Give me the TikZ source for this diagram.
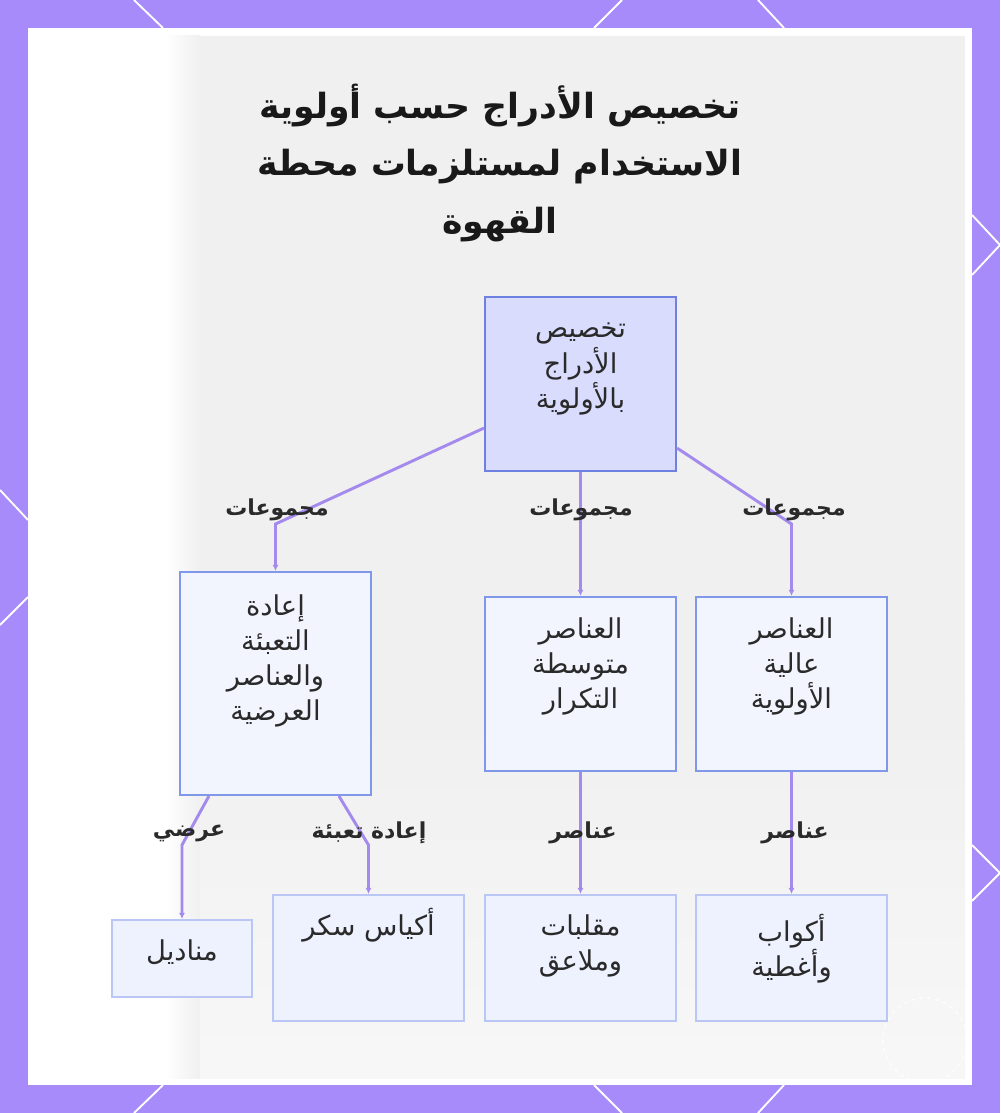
\documentclass[tikz,border=0pt]{standalone}
\usepackage{fontspec}
\newfontfamily\arabicfont[Script=Arabic]{DejaVu Sans}
\TeXXeTstate=1
\usetikzlibrary{arrows.meta,calc}
\definecolor{framecol}{HTML}{A78BFA}
\definecolor{edgecol}{HTML}{A58AEE}
\definecolor{rootfill}{HTML}{D9DCFC}
\definecolor{rootdraw}{HTML}{6E80E0}
\definecolor{midfill}{HTML}{F3F5FE}
\definecolor{middraw}{HTML}{7F98EA}
\definecolor{leaffill}{HTML}{EEF1FE}
\definecolor{leafdraw}{HTML}{BAC6F4}
\definecolor{txtcol}{HTML}{2A2A2A}
\newcommand\AR[1]{\beginR #1\endR}
\begin{document}
\begin{tikzpicture}[x=0.75pt,y=-0.75pt,
  boxbase/.style={rectangle, inner sep=0pt, line width=1.6pt},
  rootbox/.style={boxbase, fill=rootfill, draw=rootdraw, minimum width=191*0.75pt, minimum height=174*0.75pt},
  midbox/.style={boxbase, fill=midfill, draw=middraw},
  leafbox/.style={boxbase, fill=leaffill, draw=leafdraw},
  boxtxt/.style={anchor=north, align=center, text=txtcol, font=\arabicfont\fontsize{20.5}{26.3}\selectfont, inner sep=0pt},
  lbl/.style={text=txtcol, font=\arabicfont\bfseries\fontsize{16.5}{18}\selectfont, inner sep=0pt},
  edge/.style={draw=edgecol, line width=2.2pt, -{Latex[length=4.5pt,width=4.5pt]}},
  deco/.style={white, line width=1.4pt}]
\useasboundingbox (0,0) rectangle (1000,1113);
% frame
\fill[framecol] (0,0) rectangle (1000,1113);
\draw[deco] (134,0) -- (163,28);
\draw[deco] (622,0) -- (594,28);
\draw[deco] (758,0) -- (784,28);
\draw[deco] (163,1085) -- (134,1113);
\draw[deco] (594,1085) -- (622,1113);
\draw[deco] (784,1085) -- (758,1113);
\draw[deco] (0,490) -- (28,520);
\draw[deco] (28,597) -- (0,625);
\draw[deco] (972,215) -- (1000,245) -- (972,275);
\draw[deco] (972,845) -- (1000,873) -- (972,901);
% panel
\fill[white] (28,28) rectangle (972,1085);
\shade[left color=white, right color=black!6] (165,36) rectangle (200,1078);
\fill[black!6] (200,36) rectangle (965,1078);
\shade[top color=black!6, bottom color=black!3] (200,700) rectangle (965,1078);
\draw[white, line width=1pt, dashed, opacity=0.8] (925,1040) circle (42);
% title
\node[align=center, text=black!90, font=\arabicfont\bfseries\fontsize{26}{43}\selectfont] (title) at (500,163)
  {\AR{تخصيص الأدراج حسب أولوية}\\\AR{الاستخدام لمستلزمات محطة}\\\AR{القهوة}};
% boxes
\node[rootbox] (root) at (580.5,384) {};
\node[boxtxt] (rootT) at (580.5,323) {\AR{تخصيص}\\\AR{الأدراج}\\\AR{بالأولوية}};
\node[midbox, minimum width=191*0.75pt, minimum height=223*0.75pt] (mL) at (275.5,683.5) {};
\node[boxtxt] (mLT) at (275.5,594) {\AR{إعادة}\\\AR{التعبئة}\\\AR{والعناصر}\\\AR{العرضية}};
\node[midbox, minimum width=191*0.75pt, minimum height=174*0.75pt] (mM) at (580.5,684) {};
\node[boxtxt] (mMT) at (580.5,617) {\AR{العناصر}\\\AR{متوسطة}\\\AR{التكرار}};
\node[midbox, minimum width=191*0.75pt, minimum height=174*0.75pt] (mR) at (791.5,684) {};
\node[boxtxt] (mRT) at (791.5,617) {\AR{العناصر}\\\AR{عالية}\\\AR{الأولوية}};
\node[leafbox, minimum width=140*0.75pt, minimum height=77*0.75pt] (l1) at (182,958.5) {};
\node[boxtxt] (l1T) at (182,939) {\AR{مناديل}};
\node[leafbox, minimum width=191*0.75pt, minimum height=126*0.75pt] (l2) at (368.5,958) {};
\node[boxtxt] (l2T) at (368.5,908) {\AR{أكياس سكر}};
\node[leafbox, minimum width=191*0.75pt, minimum height=126*0.75pt] (l3) at (580.5,958) {};
\node[boxtxt] (l3T) at (580.5,914) {\AR{مقلبات}\\\AR{وملاعق}};
\node[leafbox, minimum width=191*0.75pt, minimum height=126*0.75pt] (l4) at (791.5,958) {};
\node[boxtxt] (l4T) at (791.5,914) {\AR{أكواب}\\\AR{وأغطية}};
% connectors
\coordinate (jL) at (275.5,524);
\coordinate (jR) at (791.5,524);
\coordinate (jl1) at (182,845);
\coordinate (jl2) at (368.5,845);
\draw[edge] ($(root.south west)+(0,-44)$) -- (jL) -- (mL.north);
\draw[edge] (root.south) -- (mM.north);
\draw[edge] ($(root.south east)+(0,-24)$) -- (jR) -- (mR.north);
\draw[edge] ($(mL.south west)+(30,0)$) -- (jl1) -- (l1.north);
\draw[edge] ($(mL.south west)+(160,0)$) -- (jl2) -- (l2.north);
\draw[edge] (mM.south) -- (l3.north);
\draw[edge] (mR.south) -- (l4.north);
% labels
\node[lbl] (g1) at (277,510) {\AR{مجموعات}};
\node[lbl] (g2) at (581,510) {\AR{مجموعات}};
\node[lbl] (g3) at (794,510) {\AR{مجموعات}};
\node[lbl] (e1) at (189,833) {\AR{عرضي}};
\node[lbl] (e2) at (369,833) {\AR{إعادة تعبئة}};
\node[lbl] (e3) at (583,833) {\AR{عناصر}};
\node[lbl] (e4) at (795,833) {\AR{عناصر}};
\end{tikzpicture}
\end{document}
